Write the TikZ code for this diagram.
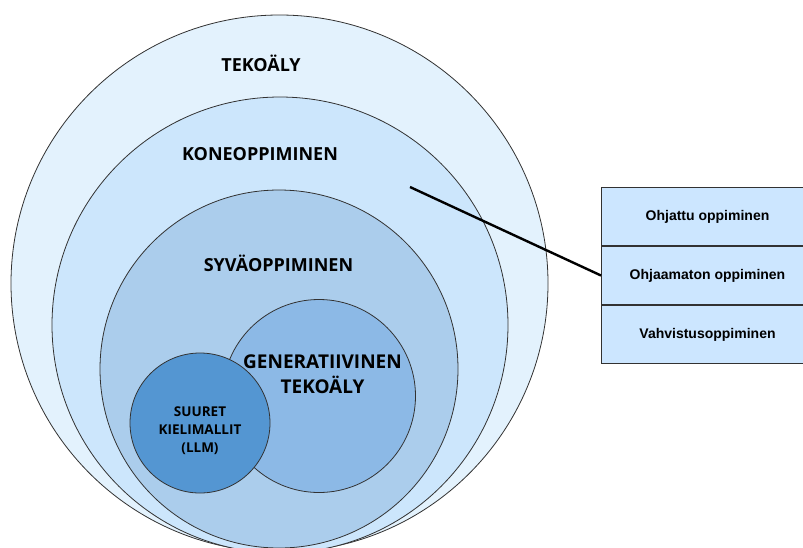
\documentclass[tikz,border=0pt]{standalone}
\usepackage{fontspec}
\setmainfont{Open Sans}
\newfontfamily\tablefont{Liberation Sans}
\usetikzlibrary{positioning}
\definecolor{aiblue}{RGB}{227,242,253}
\definecolor{mlblue}{RGB}{204,230,252}
\definecolor{dlblue}{RGB}{171,205,236}
\definecolor{genblue}{RGB}{140,185,230}
\definecolor{llmblue}{RGB}{84,150,210}
\definecolor{rowblue}{RGB}{204,230,255}
\definecolor{edgegray}{RGB}{50,50,50}

\begin{document}
\begin{tikzpicture}[x=1pt,y=-1pt,
  ring/.style={draw=edgegray,line width=0.8pt,circle,inner sep=0pt},
  ringlabel/.style={font=\fontsize{18}{20}\selectfont\bfseries,align=center,anchor=base},
  typerow/.style={draw=edgegray,line width=1pt,fill=rowblue,minimum width=212pt,
    minimum height=58pt,inner sep=0pt,font=\tablefont\fontsize{14}{16}\selectfont\bfseries}]

  \useasboundingbox (0,0) rectangle (803,547);

  % nested circles
  \node[ring,fill=aiblue,minimum size=537pt] (ai) at (279.5,283.5) {};
  \node[ring,fill=mlblue,minimum size=456pt] (ml) at (280,325) {};
  \node[ring,fill=dlblue,minimum size=358pt] (dl) at (279,369) {};
  \node[ring,fill=genblue,minimum size=193pt] (gen) at (319,396) {};
  \node[ring,fill=llmblue,minimum size=140pt] (llm) at (200,423) {};

  % circle labels (multi-line ones sit on their last baseline)
  \node[ringlabel] (ailabel) at (261,71) {TEKOÄLY};
  \node[ringlabel] (mllabel) at (260,160) {KONEOPPIMINEN};
  \node[ringlabel] (dllabel) at (278.5,271) {SYVÄOPPIMINEN};
  \node[ringlabel,font=\fontsize{19}{25}\selectfont\bfseries] (genlabel) at (322.5,393)
    {GENERATIIVINEN\\TEKOÄLY};
  \node[ringlabel,font=\fontsize{13.5}{18}\selectfont\bfseries] (llmlabel) at (200,452)
    {SUURET\\KIELIMALLIT\\(LLM)};

  % learning types
  \node[typerow,anchor=north west] (sup) at (601,187) {Ohjattu oppiminen};
  \node[typerow,below=0pt of sup] (unsup) {Ohjaamaton oppiminen};
  \node[typerow,below=0pt of unsup] (reinf) {Vahvistusoppiminen};

  \coordinate (mlpoint) at (410,187);
  \draw[line width=2.4pt] (mlpoint) -- (unsup.west);

\end{tikzpicture}
\end{document}
